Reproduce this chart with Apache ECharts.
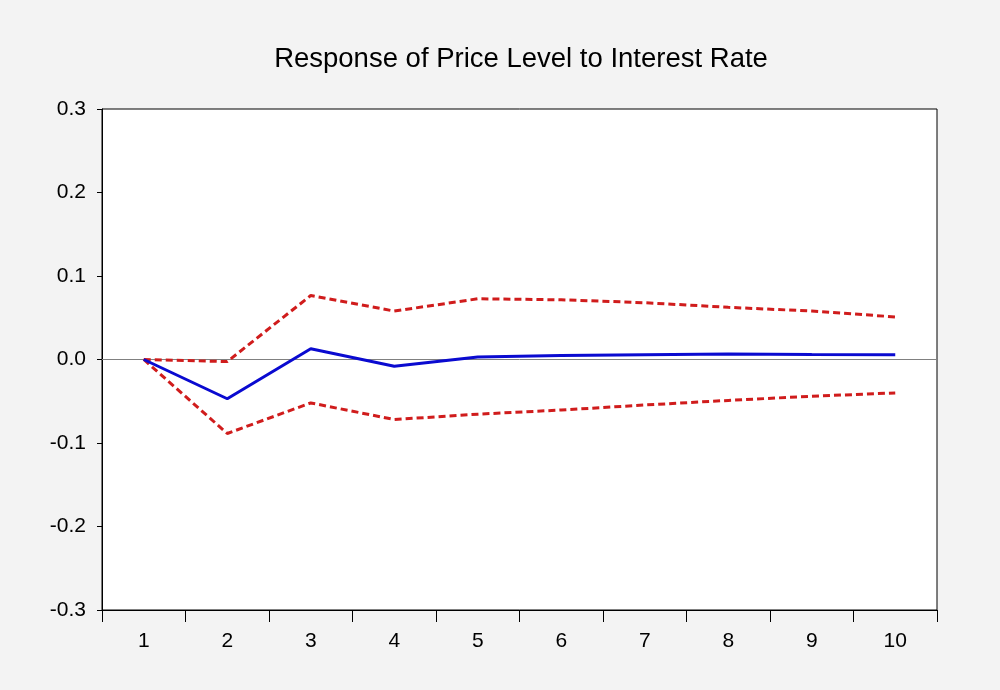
<!DOCTYPE html>
<html>
<head>
<meta charset="utf-8">
<script src="https://cdn.jsdelivr.net/npm/echarts@6/dist/echarts.min.js"></script>
<style>
html,body{margin:0;padding:0;background:#f3f3f3;}
#chart{width:1000px;height:690px;}
</style>
</head>
<body>
<div id="chart"></div>
<script>
const titleText = "Response of Price Level to Interest Rate";
const periods = ["1","2","3","4","5","6","7","8","9","10"];
const response = [0.0, -0.047, 0.0128, -0.008, 0.003, 0.0048, 0.0058, 0.0066, 0.006, 0.0056];
const upperBand = [0.0, -0.0025, 0.0766, 0.058, 0.0727, 0.0715, 0.068, 0.0625, 0.058, 0.051];
const lowerBand = [0.0, -0.0886, -0.052, -0.0719, -0.0655, -0.0605, -0.0545, -0.049, -0.044, -0.040];
const yTicks = {min: -0.3, max: 0.3, interval: 0.1};

const chart = echarts.init(document.getElementById('chart'));
const font = 'Liberation Sans, Arial, sans-serif';
chart.setOption({
  backgroundColor: '#f3f3f3',
  animation: false,
  title: {
    text: titleText,
    left: 516,
    textAlign: 'center',
    top: 40,
    textStyle: {fontFamily: font, fontSize: 27.5, fontWeight: 'normal', color: '#000'}
  },
  grid: {
    left: 102, right: 63, top: 109, bottom: 80,
    show: true, backgroundColor: '#ffffff', borderColor: '#000', borderWidth: 1
  },
  xAxis: {
    type: 'category',
    data: periods,
    boundaryGap: true,
    axisLine: {onZero: false, lineStyle: {color: '#000', width: 1}},
    axisTick: {show: true, length: 12, inside: false, alignWithLabel: false, lineStyle: {color: '#000'}},
    axisLabel: {fontFamily: font, fontSize: 21, color: '#000', margin: 21},
    splitLine: {show: false}
  },
  yAxis: {
    type: 'value',
    min: yTicks.min, max: yTicks.max, interval: yTicks.interval,
    axisLine: {show: true, onZero: false, lineStyle: {color: '#000', width: 1}},
    axisTick: {show: true, length: 5, lineStyle: {color: '#000'}},
    axisLabel: {fontFamily: font, fontSize: 21, color: '#000', margin: 16,
      formatter: v => (Math.abs(v) < 1e-9 ? 0 : v).toFixed(1)},
    splitLine: {show: false}
  },
  series: [
    {
      name: 'Response', type: 'line', data: response,
      symbol: 'none', z: 3,
      lineStyle: {color: '#0a0ad0', width: 3},
      markLine: {
        silent: true, symbol: 'none', label: {show: false},
        lineStyle: {color: '#808080', width: 1, type: 'solid'},
        data: [{yAxis: 0}], z: 1
      }
    },
    {
      name: 'Upper', type: 'line', data: upperBand,
      symbol: 'none', z: 2,
      lineStyle: {color: '#d01c1c', width: 3, type: [7, 4]}
    },
    {
      name: 'Lower', type: 'line', data: lowerBand,
      symbol: 'none', z: 2,
      lineStyle: {color: '#d01c1c', width: 3, type: [7, 4]}
    }
  ]
});
</script>
</body>
</html>
